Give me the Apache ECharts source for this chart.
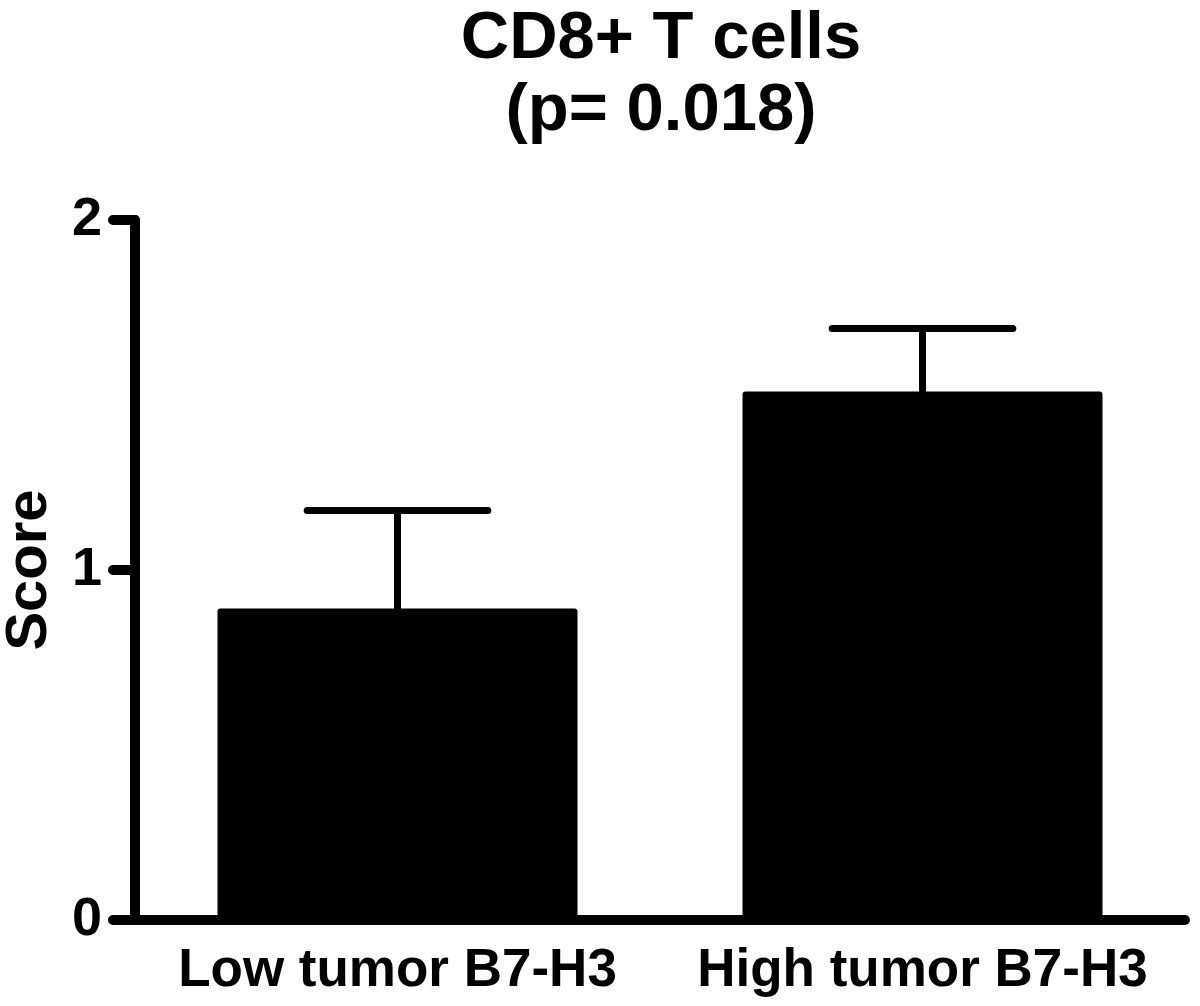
<!DOCTYPE html>
<html>
<head>
<meta charset="utf-8">
<script src="https://cdn.jsdelivr.net/npm/echarts@6/dist/echarts.min.js"></script>
<style>
html,body{margin:0;padding:0;background:#fff;}
#chart{width:1200px;height:1006px;}
</style>
</head>
<body>
<div id="chart"></div>
<script>
var categories = ['Low tumor B7-H3', 'High tumor B7-H3'];
var means = [0.89, 1.51];
var errors = [0.28, 0.18];
var yTicks = [0, 1, 2];
var titleLines = ['CD8+ T cells', '(p= 0.018)'];
var yName = 'Score';

var FONT = '"Liberation Sans", Arial, sans-serif';
var chart = echarts.init(document.getElementById('chart'), null, {renderer: 'canvas'});

var errData = means.map(function (m, i) { return [i, m, m + errors[i]]; });

chart.setOption({
  backgroundColor: '#ffffff',
  animation: false,
  title: {
    text: titleLines.join('\n'),
    left: 656,
    textAlign: 'center',
    top: -1,
    textStyle: {
      fontFamily: FONT, fontWeight: 'bold', fontSize: 67, lineHeight: 72, color: '#000'
    }
  },
  grid: { left: 135, right: 15, top: 220, bottom: 86, containLabel: false, outerBoundsMode: 'none' },
  xAxis: {
    type: 'category',
    data: categories,
    axisLine: { lineStyle: { color: '#000', width: 10, cap: 'round' } },
    axisTick: { alignWithLabel: true, interval: 0, length: 22, lineStyle: { color: '#000', width: 9, cap: 'round' } },
    axisLabel: {
      interval: 0, hideOverlap: false,
      margin: 25, color: '#000', fontFamily: FONT, fontWeight: 'bold', fontSize: 53
    },
    splitLine: { show: false }
  },
  yAxis: {
    type: 'value',
    min: yTicks[0],
    max: yTicks[yTicks.length - 1],
    interval: 1,
    name: yName,
    nameLocation: 'middle',
    nameGap: 76,
    nameRotate: 90,
    nameTextStyle: { color: '#000', fontFamily: FONT, fontWeight: 'bold', fontSize: 58 },
    axisLine: { show: true, lineStyle: { color: '#000', width: 10, cap: 'round' } },
    axisTick: { show: true, length: 22, lineStyle: { color: '#000', width: 10, cap: 'round' } },
    axisLabel: {
      margin: 33, color: '#000', fontFamily: FONT, fontWeight: 'bold', fontSize: 54
    },
    splitLine: { show: false }
  },
  series: [
    {
      type: 'bar',
      data: means,
      barWidth: 360,
      itemStyle: { color: '#000', borderRadius: 3 },
      z: 2
    },
    {
      type: 'custom',
      data: errData,
      z: 3,
      renderItem: function (params, api) {
        var i = api.value(0);
        var base = api.coord([i, api.value(1)]);
        var top = api.coord([i, api.value(2)]);
        var half = api.size([1, 0])[0] * 0.172;
        var style = { stroke: '#000', lineWidth: 7, lineCap: 'round' };
        return {
          type: 'group',
          children: [
            { type: 'line', shape: { x1: top[0], y1: base[1], x2: top[0], y2: top[1] }, style: style },
            { type: 'line', shape: { x1: top[0] - half, y1: top[1], x2: top[0] + half, y2: top[1] }, style: style }
          ]
        };
      }
    }
  ]
});
</script>
</body>
</html>
